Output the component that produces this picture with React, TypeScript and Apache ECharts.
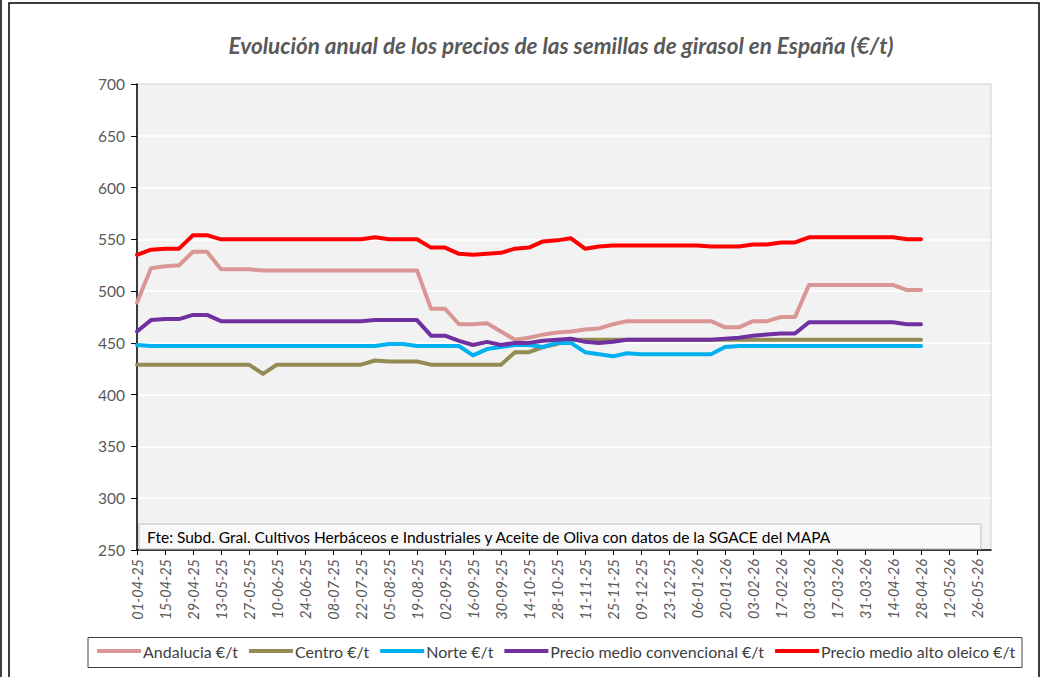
import React, { useEffect, useRef } from "react";
import * as echarts from "echarts";

const TITLE = "Evolución anual de los precios de las semillas de girasol en España (€/t)";
const SOURCE = "Fte: Subd. Gral. Cultivos Herbáceos e Industriales y Aceite de Oliva con datos de la SGACE del MAPA";

const dates = [
  "01-04-25", "08-04-25", "15-04-25", "22-04-25", "29-04-25", "06-05-25", "13-05-25", "20-05-25",
  "27-05-25", "03-06-25", "10-06-25", "17-06-25", "24-06-25", "01-07-25", "08-07-25", "15-07-25",
  "22-07-25", "29-07-25", "05-08-25", "12-08-25", "19-08-25", "26-08-25", "02-09-25", "09-09-25",
  "16-09-25", "23-09-25", "30-09-25", "07-10-25", "14-10-25", "21-10-25", "28-10-25", "04-11-25",
  "11-11-25", "18-11-25", "25-11-25", "02-12-25", "09-12-25", "16-12-25", "23-12-25", "30-12-25",
  "06-01-26", "13-01-26", "20-01-26", "27-01-26", "03-02-26", "10-02-26", "17-02-26", "24-02-26",
  "03-03-26", "10-03-26", "17-03-26", "24-03-26", "31-03-26", "07-04-26", "14-04-26", "21-04-26",
  "28-04-26", "05-05-26", "12-05-26", "19-05-26", "26-05-26", "02-06-26",
];

const andalucia = [
  489, 522, 524, 525, 538, 538, 521, 521, 521, 520, 520, 520, 520, 520, 520, 520,
  520, 520, 520, 520, 520, 483, 483, 468, 468, 469, 461, 453, 455, 458, 460, 461,
  463, 464, 468, 471, 471, 471, 471, 471, 471, 471, 465, 465, 471, 471, 475, 475,
  506, 506, 506, 506, 506, 506, 506, 501, 501,
];

const centro = [
  429, 429, 429, 429, 429, 429, 429, 429, 429, 420, 429, 429, 429, 429, 429, 429,
  429, 433, 432, 432, 432, 429, 429, 429, 429, 429, 429, 441, 441, 446, 449, 453,
  453, 453, 453, 453, 453, 453, 453, 453, 453, 453, 453, 453, 453, 453, 453, 453,
  453, 453, 453, 453, 453, 453, 453, 453, 453,
];

const norte = [
  448, 447, 447, 447, 447, 447, 447, 447, 447, 447, 447, 447, 447, 447, 447, 447,
  447, 447, 449, 449, 447, 447, 447, 447, 438, 444, 446, 448, 448, 446, 450, 450,
  441, 439, 437, 440, 439, 439, 439, 439, 439, 439, 446, 447, 447, 447, 447, 447,
  447, 447, 447, 447, 447, 447, 447, 447, 447,
];

const convencional = [
  461, 472, 473, 473, 477, 477, 471, 471, 471, 471, 471, 471, 471, 471, 471, 471,
  471, 472, 472, 472, 472, 457, 457, 452, 448, 451, 448, 450, 450, 452, 453, 454,
  451, 450, 451, 453, 453, 453, 453, 453, 453, 453, 454, 455, 457, 458, 459, 459,
  470, 470, 470, 470, 470, 470, 470, 468, 468,
];

const altoOleico = [
  535, 540, 541, 541, 554, 554, 550, 550, 550, 550, 550, 550, 550, 550, 550, 550,
  550, 552, 550, 550, 550, 542, 542, 536, 535, 536, 537, 541, 542, 548, 549, 551,
  541, 543, 544, 544, 544, 544, 544, 544, 544, 543, 543, 543, 545, 545, 547, 547,
  552, 552, 552, 552, 552, 552, 552, 550, 550,
];

const seriesNames = [
  "Andalucia €/t",
  "Centro €/t",
  "Norte €/t",
  "Precio medio convencional €/t",
  "Precio medio alto oleico €/t",
];
const seriesColors = ["#DA9694", "#948A54", "#00B0F0", "#7030A0", "#FF0000"];
const seriesData = [andalucia, centro, norte, convencional, altoOleico];

const FONT = "Lato, 'Open Sans', sans-serif";

export default function App() {
  const ref = useRef<HTMLDivElement>(null);

  useEffect(() => {
    if (!ref.current) return;
    const chart = echarts.init(ref.current, null, { renderer: "svg" });
    const option: any = {
      animation: false,
      backgroundColor: "#ffffff",
      textStyle: { fontFamily: FONT },
      grid: {
        left: 137,
        right: 54,
        top: 84,
        bottom: 127,
        show: true,
        backgroundColor: "#f2f2f2",
        borderColor: "#d0d0d0",
        borderWidth: 1,
        containLabel: false,
      },
      xAxis: {
        type: "category",
        data: dates,
        boundaryGap: false,
        axisLine: { show: true, lineStyle: { color: "#000000", width: 1.5 } },
        axisTick: { show: true, interval: 1, length: 5, lineStyle: { color: "#000000", width: 1 } },
        axisLabel: {
          interval: 1,
          rotate: 90,
          fontStyle: "italic",
          fontSize: 14.5,
          color: "#595959",
          fontFamily: FONT,
          margin: 9,
        },
        splitLine: { show: false },
      },
      yAxis: {
        type: "value",
        min: 250,
        max: 700,
        interval: 50,
        axisLine: { show: true, lineStyle: { color: "#000000", width: 1.5 } },
        axisTick: { show: true, length: 6, lineStyle: { color: "#000000", width: 1 } },
        axisLabel: { fontSize: 15.5, color: "#595959", fontFamily: FONT, margin: 12 },
        splitLine: {
          show: true,
          showMinLine: false,
          showMaxLine: false,
          lineStyle: { color: "#ffffff", width: 1.5 },
        },
      },
      legend: {
        left: 97,
        top: 643,
        icon: "rect",
        itemWidth: 44,
        itemHeight: 4,
        itemGap: 11,
        padding: 0,
        textStyle: { fontSize: 16, color: "#404040", fontFamily: FONT, padding: [0, 0, 0, -3] },
        data: seriesNames,
      },
      series: seriesNames.map((name, i) => ({
        name,
        type: "line",
        data: seriesData[i],
        symbol: "none",
        color: seriesColors[i],
        lineStyle: { width: 4, color: seriesColors[i], join: "round", cap: "round" },
        emphasis: { disabled: true },
        z: 2 + i,
      })),
      graphic: [
        {
          type: "text",
          x: 561,
          y: 45,
          style: {
            text: TITLE,
            fontFamily: FONT,
            fontStyle: "italic",
            fontWeight: "bold",
            fontSize: 22.5,
            fill: "#595959",
            align: "center",
            verticalAlign: "middle",
          },
        },
        {
          type: "rect",
          shape: { x: 139, y: 524, width: 842, height: 25 },
          style: { fill: "#f8f8f8", stroke: "#bfbfbf", lineWidth: 1 },
          z: 10,
        },
        {
          type: "text",
          x: 147,
          y: 537,
          style: {
            text: SOURCE,
            fontFamily: FONT,
            fontSize: 15.5,
            fill: "#000000",
            align: "left",
            verticalAlign: "middle",
          },
          z: 11,
        },
        {
          type: "rect",
          shape: { x: 88, y: 637.5, width: 934, height: 30 },
          style: { fill: "none", stroke: "#404040", lineWidth: 1 },
          z: 0,
        },
        {
          type: "rect",
          shape: { x: 9, y: 3, width: 1030, height: 700 },
          style: { fill: "none", stroke: "#000000", lineWidth: 1.5 },
          z: 0,
        },
        {
          type: "line",
          shape: { x1: 1, y1: 0, x2: 1, y2: 677 },
          style: { stroke: "#000000", lineWidth: 1.5 },
          z: 0,
        },
      ],
    };
    chart.setOption(option);
    return () => chart.dispose();
  }, []);

  return (
    <div
      ref={ref}
      style={{ position: "absolute", left: 0, top: 0, width: 1045, height: 677 }}
    />
  );
}
